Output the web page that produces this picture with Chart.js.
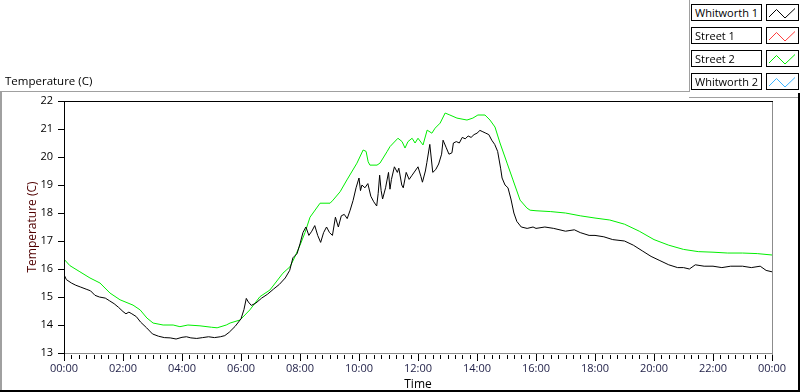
<!DOCTYPE html>
<html>
<head>
<meta charset="utf-8">
<script src="https://cdn.jsdelivr.net/npm/chart.js@4/dist/chart.umd.min.js"></script>
<style>
html,body{margin:0;padding:0;background:#fff;}
#wrap{position:relative;width:800px;height:392px;overflow:hidden;font-family:"Open Sans",sans-serif;background:#fff;}
#c{position:absolute;left:0;top:0;}
#ttl{position:absolute;left:5px;top:73px;font-size:11.5px;line-height:16px;color:#000;white-space:nowrap;}
.lg{position:absolute;left:691px;width:71px;height:17px;box-sizing:border-box;border:1px solid #000;background:#fff;font-size:11px;line-height:15px;padding-left:3px;color:#000;white-space:nowrap;overflow:hidden;}
.sw{position:absolute;left:766px;width:33px;height:17px;box-sizing:border-box;border:1px solid #000;background:#fff;}
.sw svg{position:absolute;left:0;top:0;}
</style>
</head>
<body>
<div id="wrap">
<canvas id="c" width="800" height="392"></canvas>
<div id="ttl">Temperature (C)</div>
<div id="legend"></div>
</div>
<script>
// ---- data ----
const seriesNames = ['Whitworth 1', 'Street 1', 'Street 2', 'Whitworth 2'];
const seriesColors = ['#000000', '#ff3c3c', '#00ee00', '#3cb4ff'];

const whitworth1Hours = [0.00,0.08,0.25,0.40,0.55,0.75,0.90,1.05,1.20,1.40,1.55,1.70,1.85,2.00,2.10,2.20,2.30,2.45,2.60,2.80,3.00,3.20,3.40,3.60,3.80,4.00,4.15,4.30,4.50,4.70,4.90,5.10,5.30,5.45,5.60,5.80,6.00,6.10,6.18,6.25,6.35,6.50,6.70,6.90,7.10,7.30,7.50,7.65,7.76,7.90,8.00,8.10,8.20,8.30,8.40,8.50,8.60,8.70,8.80,8.90,9.00,9.10,9.20,9.30,9.40,9.50,9.60,9.70,9.80,9.90,10.00,10.05,10.10,10.20,10.30,10.40,10.50,10.60,10.65,10.70,10.75,10.80,10.90,11.00,11.05,11.10,11.20,11.30,11.35,11.45,11.50,11.60,11.70,11.80,11.90,12.00,12.10,12.15,12.25,12.30,12.40,12.50,12.60,12.70,12.80,12.85,12.95,13.05,13.15,13.20,13.30,13.40,13.50,13.60,13.70,13.80,13.90,14.00,14.10,14.20,14.30,14.40,14.50,14.60,14.70,14.80,14.85,14.95,15.05,15.15,15.25,15.35,15.50,15.70,15.90,16.00,16.30,16.60,17.00,17.30,17.50,17.80,18.00,18.30,18.60,19.00,19.30,19.60,19.90,20.20,20.50,20.80,21.00,21.20,21.40,21.70,22.00,22.30,22.60,23.00,23.30,23.60,23.80,24.00];
const whitworth1Temps = [15.80,15.62,15.50,15.42,15.36,15.28,15.22,15.06,15.00,14.96,14.86,14.76,14.63,14.48,14.40,14.46,14.40,14.30,14.10,13.90,13.68,13.60,13.55,13.54,13.50,13.56,13.58,13.54,13.52,13.55,13.58,13.55,13.58,13.62,13.74,13.95,14.22,14.55,14.95,14.82,14.70,14.78,14.96,15.10,15.28,15.45,15.68,15.95,16.40,16.55,16.90,17.30,17.50,17.20,17.35,17.55,17.20,16.95,17.30,17.50,17.30,17.20,17.85,17.50,17.90,17.95,17.80,18.10,18.45,18.90,19.25,18.80,19.00,18.90,19.05,18.60,18.40,18.25,18.70,19.35,18.80,18.50,18.90,19.45,18.85,19.20,19.65,19.45,19.60,19.00,18.90,19.45,19.20,19.35,19.50,19.65,19.30,19.10,19.50,19.80,20.45,19.45,19.55,19.75,20.10,20.60,20.35,20.10,20.15,20.50,20.55,20.50,20.70,20.65,20.75,20.70,20.80,20.85,20.95,20.90,20.85,20.80,20.60,20.45,20.20,19.60,19.25,19.00,18.90,18.50,18.00,17.70,17.50,17.45,17.50,17.45,17.50,17.45,17.35,17.40,17.30,17.20,17.20,17.15,17.05,17.00,16.85,16.65,16.45,16.30,16.15,16.05,16.05,16.00,16.15,16.10,16.10,16.05,16.10,16.10,16.05,16.10,15.95,15.90];

const street2Hours = [0.00,0.20,0.54,0.88,1.22,1.56,1.90,2.34,2.58,2.81,3.02,3.36,3.70,3.93,4.20,4.61,5.00,5.19,5.50,5.63,5.97,6.30,6.64,6.98,7.42,7.66,7.83,8.00,8.17,8.34,8.68,9.02,9.12,9.36,9.59,9.93,10.14,10.24,10.31,10.37,10.61,10.71,10.95,11.05,11.32,11.46,11.56,11.66,11.80,11.90,12.00,12.17,12.31,12.47,12.58,12.75,12.92,13.08,13.32,13.66,13.86,14.03,14.27,14.44,14.61,14.78,15.02,15.22,15.46,15.69,15.80,16.00,16.50,17.00,17.50,18.00,18.50,19.00,19.50,20.00,20.50,21.00,21.50,22.00,22.50,23.00,23.50,24.00];
const street2Temps = [16.35,16.12,15.90,15.68,15.50,15.14,14.90,14.71,14.54,14.25,14.07,14.00,14.00,13.94,14.00,13.97,13.92,13.90,14.00,14.07,14.18,14.54,15.01,15.25,15.85,16.08,16.44,16.85,17.30,17.85,18.35,18.35,18.46,18.76,19.18,19.78,20.25,20.20,19.83,19.71,19.71,19.78,20.19,20.37,20.67,20.55,20.32,20.55,20.67,20.50,20.67,20.43,20.96,20.85,21.03,21.21,21.57,21.50,21.39,21.32,21.39,21.50,21.50,21.32,21.07,20.50,19.78,19.18,18.46,18.18,18.10,18.08,18.05,18.00,17.90,17.82,17.75,17.60,17.35,17.05,16.85,16.70,16.62,16.60,16.57,16.57,16.55,16.50];

const street1Temps = [];     // no data shown
const whitworth2Temps = [];  // no data shown

const xMajorHours = [0,2,4,6,8,10,12,14,16,18,20,22,24];
const xTickLabels = ['00:00','02:00','04:00','06:00','08:00','10:00','12:00','14:00','16:00','18:00','20:00','22:00','00:00'];
const xMinorStep = 0.25;
const yTickValues = [13,14,15,16,17,18,19,20,21,22];

// ---- legend (HTML) ----
const legendEl = document.getElementById('legend');
seriesNames.forEach((name, i) => {
  const top = 4 + i * 23;
  const lab = document.createElement('div');
  lab.className = 'lg'; lab.style.top = top + 'px'; lab.textContent = name;
  legendEl.appendChild(lab);
  const sw = document.createElement('div');
  sw.className = 'sw'; sw.style.top = top + 'px';
  sw.innerHTML = '<svg width="31" height="15" viewBox="0 0 31 15"><polyline points="2,12 9.5,4.5 18,13 28,3.5" fill="none" stroke="' + seriesColors[i] + '" stroke-width="1"/></svg>';
  legendEl.appendChild(sw);
});

const toPts = (xs, ys) => ys.map((v, i) => ({x: xs[i], y: v}));

const framePlugin = {
  id: 'frame',
  afterDraw(chart) {
    const {ctx, chartArea: a, scales: {x, y}} = chart;
    ctx.save();
    ctx.lineWidth = 1;
    ctx.strokeStyle = '#000';
    ctx.beginPath();
    for (let k = 0; k <= Math.round(24 / xMinorStep); k++) {
      const h = k * xMinorStep;
      const px = Math.round(x.getPixelForValue(h)) + 0.5;
      const major = xMajorHours.includes(h);
      ctx.moveTo(px, a.bottom + (major ? 1 : 2));
      ctx.lineTo(px, a.bottom + (major ? 8 : 6));
    }
    yTickValues.forEach(v => {
      const py = Math.round(y.getPixelForValue(v)) + 0.5;
      ctx.moveTo(a.left - 6, py); ctx.lineTo(a.left, py);
    });
    ctx.stroke();
    // plot frame
    ctx.fillStyle = '#000';
    ctx.fillRect(a.left, a.top, 1, a.bottom - a.top + 1);
    ctx.fillRect(a.left, a.top, a.right - a.left + 1, 1);
    ctx.fillStyle = '#8c8c8c';
    ctx.fillRect(a.right, a.top + 1, 1, a.bottom - a.top + 1);
    ctx.fillRect(a.left + 1, a.bottom, a.right - a.left, 1);
    // outer frame
    ctx.fillStyle = '#a0a0a0';
    ctx.fillRect(0, 91, 690, 1);
    ctx.fillRect(0, 91, 2, 300);
    ctx.fillRect(689, 0, 1, 92);
    ctx.fillRect(689, 97, 109, 1);
    ctx.fillStyle = '#000';
    ctx.fillRect(798, 93, 2, 299);
    ctx.fillRect(0, 390, 800, 2);
    ctx.restore();
  }
};

Chart.defaults.font.family = '"Open Sans", sans-serif';

new Chart(document.getElementById('c'), {
  type: 'line',
  data: {
    datasets: [
      {label: seriesNames[0], data: toPts(whitworth1Hours, whitworth1Temps), borderColor: seriesColors[0]},
      {label: seriesNames[1], data: street1Temps, borderColor: seriesColors[1]},
      {label: seriesNames[2], data: toPts(street2Hours, street2Temps), borderColor: seriesColors[2]},
      {label: seriesNames[3], data: whitworth2Temps, borderColor: seriesColors[3]}
    ].map(d => Object.assign(d, {borderWidth: 1, pointRadius: 0, tension: 0, fill: false}))
  },
  options: {
    responsive: false,
    animation: false,
    devicePixelRatio: 1,
    layout: {padding: {top: 101, right: 28, bottom: 0, left: 0}},
    plugins: {legend: {display: false}, title: {display: false}, tooltip: {enabled: false}},
    scales: {
      x: {
        type: 'linear', min: 0, max: 24,
        afterBuildTicks: s => { s.ticks = xMajorHours.map(v => ({value: v})); },
        afterFit: s => { s.height = 39; },
        ticks: {autoSkip: false, maxRotation: 0, padding: 2, color: '#1e1e46', font: {size: 11},
                callback: (v, i) => xTickLabels[i]},
        grid: {display: false, drawTicks: true, tickLength: 7},
        border: {display: false},
        title: {display: true, text: 'Time', color: '#000', font: {size: 12}, padding: {top: 0, bottom: 0}}
      },
      y: {
        min: 13, max: 22,
        afterBuildTicks: s => { s.ticks = yTickValues.map(v => ({value: v})); },
        afterFit: s => { s.width = 64; },
        ticks: {padding: 5, color: '#000', font: {size: 11}},
        grid: {display: false, drawTicks: true, tickLength: 6},
        border: {display: false},
        title: {display: true, text: 'Temperature (C)', color: '#500000', font: {size: 12}, padding: {top: 25, bottom: 0}}
      }
    }
  },
  plugins: [framePlugin]
});
</script>
</body>
</html>
